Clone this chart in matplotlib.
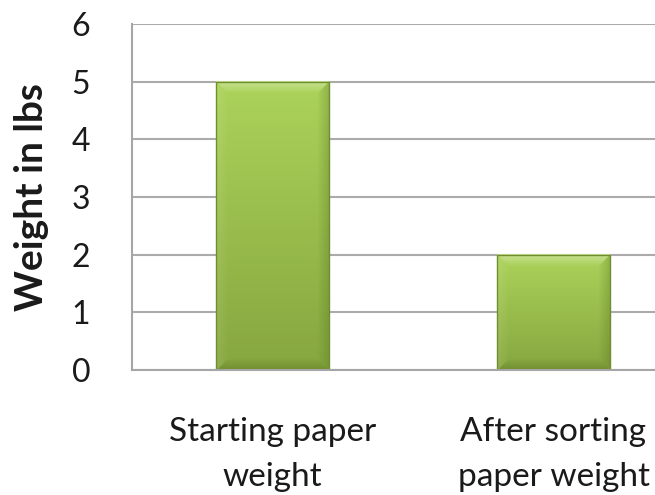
import numpy as np
import matplotlib
matplotlib.use("Agg")
import matplotlib.pyplot as plt
from matplotlib.colors import to_rgb

categories = ["Starting paper\nweight", "After sorting\npaper weight"]
weights = [5, 2]
y_ticks = [0, 1, 2, 3, 4, 5, 6]
y_label = "Weight in lbs"

plt.rcParams["font.family"] = ["Lato", "DejaVu Sans"]

fig = plt.figure(figsize=(6.55, 4.95), dpi=100)
W, H = 655, 495
ax = fig.add_axes([132 / W, (H - 370) / H, (694 - 132) / W, (370 - 24) / H])

x = np.arange(len(categories))
bars = ax.bar(x, weights, width=0.40, color="none", edgecolor="none", zorder=2)

ax.set_xlim(-0.5, len(categories) - 0.5)
ax.set_ylim(0, 6)
ax.set_yticks(y_ticks)
ax.set_yticklabels([str(t) for t in y_ticks], fontsize=23, color="#1a1a1a")
ax.set_xticks(x)
ax.set_xticklabels(categories, fontsize=24, color="#1a1a1a", linespacing=1.6)
ax.tick_params(axis="both", length=0)
ax.tick_params(axis="y", pad=30)
ax.tick_params(axis="x", pad=34)
ax.set_ylabel(y_label, fontsize=28, fontweight="bold", color="#1a1a1a", labelpad=16)

ax.yaxis.grid(True, color="#ababab", linewidth=1.5, zorder=0)
ax.set_axisbelow(True)
for side in ("top", "right"):
    ax.spines[side].set_visible(False)
for side in ("left", "bottom"):
    ax.spines[side].set_color("#a6a6a6")
    ax.spines[side].set_linewidth(1.5)
    ax.spines[side].set_zorder(3)

top_col = np.array(to_rgb("#acd35a"))
bot_col = np.array(to_rgb("#86a63f"))

fig.canvas.draw()
to_px = ax.transData
for rect in bars:
    x0, w, h = rect.get_x(), rect.get_width(), rect.get_height()
    (px0, py0), (px1, py1) = to_px.transform([(x0, 0), (x0 + w, h)])
    nx, ny = int(round(px1 - px0)) * 2, int(round(py1 - py0)) * 2
    yy, xx = np.mgrid[0:ny, 0:nx] / 2.0  # pixel units, row 0 = top
    t = yy / (ny / 2.0)
    img = top_col[None, None, :] * (1 - t[..., None]) + bot_col[None, None, :] * t[..., None]
    bev = 12.0
    d_top = yy
    d_bot = ny / 2.0 - yy
    d_left = xx
    d_right = nx / 2.0 - xx
    dists = np.stack([d_top, d_left, d_right, d_bot])
    nearest = np.argmin(dists, axis=0)
    dmin = np.min(dists, axis=0)
    band = dmin < bev
    fade = np.clip(1 - dmin / bev, 0, 1)[..., None]
    white = np.ones(3)
    dark = np.array(to_rgb("#4f6a1c"))
    shade = img.copy()
    # lit top edge, slightly lit left, shadowed right and bottom
    m = band & (nearest == 0)
    shade[m] = (img * (1 - 0.35 * fade) + white * 0.35 * fade)[m]
    m = band & (nearest == 1)
    shade[m] = (img * (1 - 0.10 * fade) + white * 0.10 * fade)[m]
    m = band & (nearest == 2)
    shade[m] = (img * (1 - 0.30 * fade) + dark * 0.30 * fade)[m]
    m = band & (nearest == 3)
    shade[m] = (img * (1 - 0.40 * fade) + dark * 0.40 * fade)[m]
    ax.imshow(shade, extent=[x0, x0 + w, 0, h], aspect="auto", zorder=2,
              interpolation="bilinear")
    ax.add_patch(plt.Rectangle((x0, 0), w, h, facecolor="none",
                               edgecolor="#6f8f2e", linewidth=1.0, zorder=2.5))

ax.set_xlim(-0.5, len(categories) - 0.5)
ax.set_ylim(0, 6)

fig.savefig("out.png", dpi=100)
